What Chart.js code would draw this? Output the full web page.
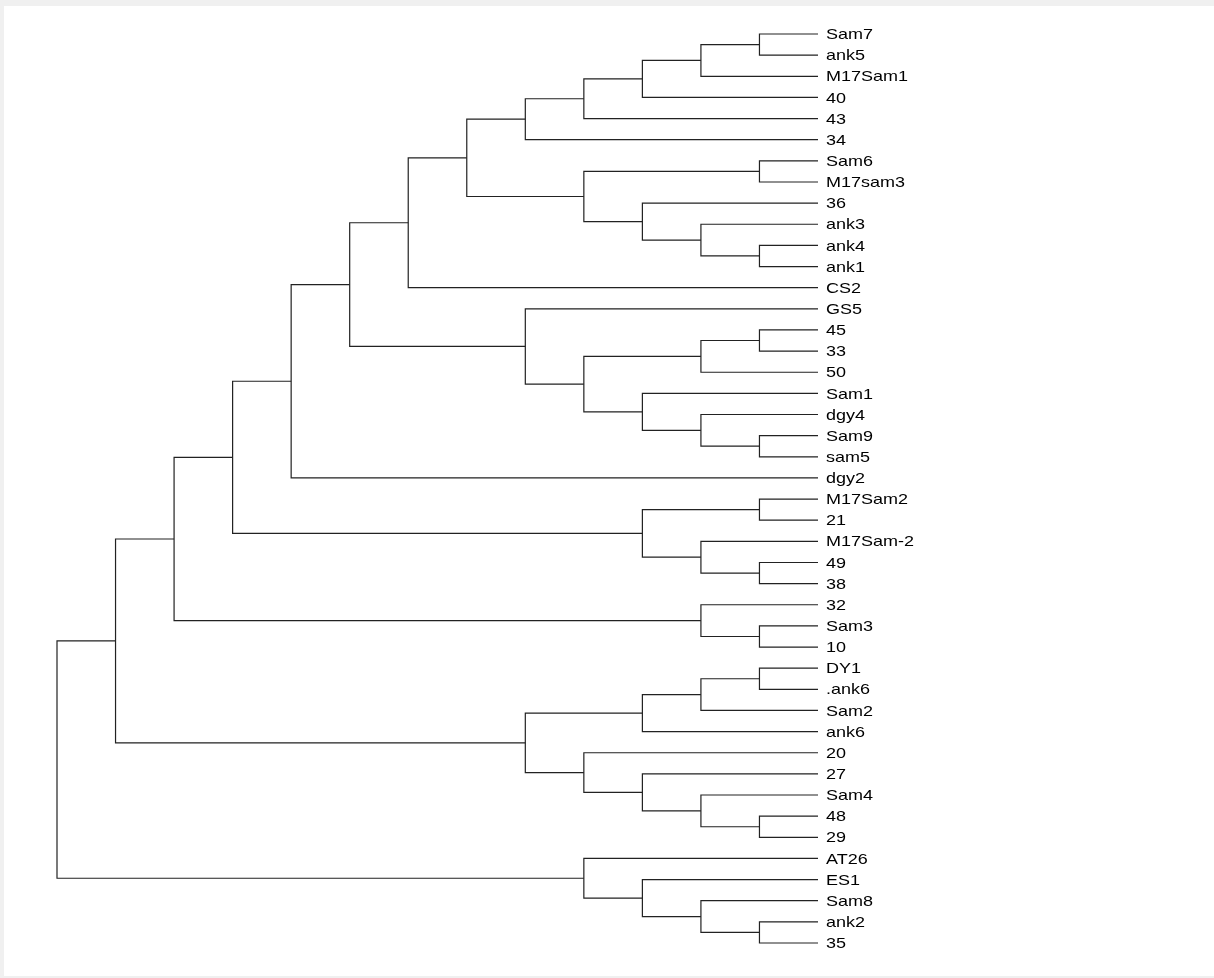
<!DOCTYPE html>
<html>
<head>
<meta charset="utf-8">
<script src="https://cdn.jsdelivr.net/npm/chart.js@4/dist/chart.umd.min.js"></script>
<style>
  html, body { margin: 0; padding: 0; background: #f0f0f0; }
  #wrap { position: absolute; left: 4px; top: 6px; width: 1210px; height: 970px; background: #fff; }
</style>
</head>
<body>
<div id="wrap"><canvas id="tree" width="1210" height="970"></canvas></div>
<script>
// leaf labels, top to bottom
const leaves = [
  "Sam7", "ank5", "M17Sam1", "40", "43", "34", "Sam6", "M17sam3", "36", "ank3",
  "ank4", "ank1", "CS2", "GS5", "45", "33", "50", "Sam1", "dgy4", "Sam9",
  "sam5", "dgy2", "M17Sam2", "21", "M17Sam-2", "49", "38", "32", "Sam3", "10",
  "DY1", ".ank6", "Sam2", "ank6", "20", "27", "Sam4", "48", "29", "AT26",
  "ES1", "Sam8", "ank2", "35"
];

// hclust-style merges: negative = leaf number, positive = earlier merge number
const merges = [
  [-1, -2], [1, -3], [2, -4], [3, -5], [4, -6],
  [-7, -8], [-11, -12], [-10, 7], [-9, 8], [6, 9],
  [5, 10], [11, -13], [-15, -16], [13, -17], [-20, -21],
  [-19, 15], [-18, 16], [14, 17], [-14, 18], [12, 19],
  [20, -22], [-23, -24], [-26, -27], [-25, 23], [22, 24],
  [21, 25], [-29, -30], [-28, 27], [26, 28], [-31, -32],
  [30, -33], [31, -34], [-38, -39], [-37, 33], [-36, 34],
  [-35, 35], [32, 36], [29, 37], [-43, -44], [-42, 39],
  [-41, 40], [-40, 41], [38, 42]
];

// merge heights
const heights = [
  1, 2, 3, 4, 5,
  1, 1, 2, 3, 4,
  6, 7, 1, 2, 1,
  2, 3, 4, 5, 8,
  9, 1, 1, 2, 3,
  10, 1, 2, 11, 1,
  2, 3, 1, 2, 3,
  4, 5, 12, 1, 2,
  3, 4, 13
];

const nodeY = [];
const pos = (ref) => ref < 0 ? { x: 0, y: -ref } : { x: heights[ref - 1], y: nodeY[ref - 1] };

const datasets = merges.map((m, i) => {
  const a = pos(m[0]);
  const b = pos(m[1]);
  const h = heights[i];
  nodeY[i] = (a.y + b.y) / 2;
  return {
    data: [
      { x: a.x, y: a.y },
      { x: h, y: a.y },
      { x: h, y: b.y },
      { x: b.x, y: b.y }
    ],
    showLine: true,
    borderColor: "#222",
    borderWidth: 1.2,
    pointRadius: 0,
    tension: 0,
    clip: false
  };
});

const leafLabels = {
  id: "leafLabels",
  afterDatasetsDraw(chart) {
    const ctx = chart.ctx;
    const xs = chart.scales.x;
    const ys = chart.scales.y;
    const x0 = xs.getPixelForValue(0) + 8;
    ctx.save();
    ctx.fillStyle = "#000";
    ctx.font = "15px 'Liberation Sans', Arial, sans-serif";
    ctx.textBaseline = "middle";
    leaves.forEach((name, i) => {
      const y = ys.getPixelForValue(i + 1) + 1;
      ctx.save();
      ctx.translate(x0, y);
      ctx.scale(1.2, 1);
      ctx.fillText(name, 0, 0);
      ctx.restore();
    });
    ctx.restore();
  }
};

new Chart(document.getElementById("tree"), {
  type: "scatter",
  data: { datasets },
  options: {
    responsive: false,
    animation: false,
    layout: { padding: { left: 53, right: 396, top: 28, bottom: 33 } },
    plugins: { legend: { display: false }, tooltip: { enabled: false } },
    scales: {
      x: { type: "linear", min: 0, max: 13, reverse: true, display: false },
      y: { type: "linear", min: 1, max: leaves.length, reverse: true, display: false }
    }
  },
  plugins: [leafLabels]
});
</script>
</body>
</html>
